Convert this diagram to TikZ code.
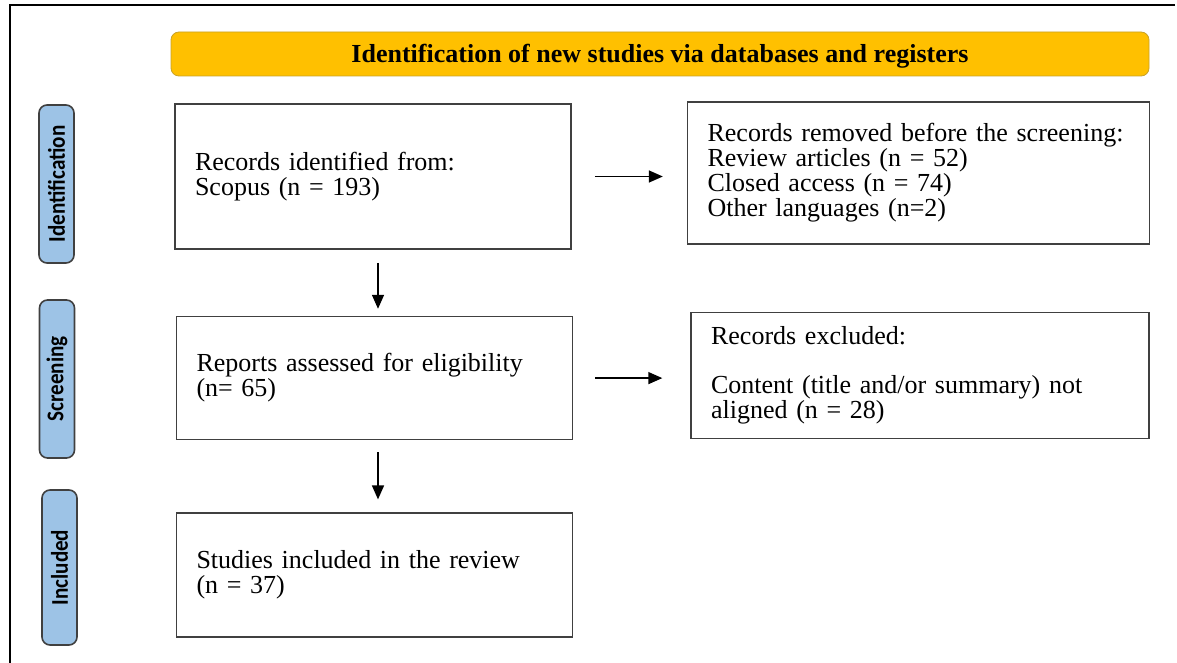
\documentclass[tikz,border=0pt]{standalone}
\usepackage{fontspec}
\setmainfont{Liberation Serif}
\newfontfamily\stagefont[FakeStretch=0.88]{Carlito}
\usepackage{tikz}
\usetikzlibrary{arrows.meta,positioning}
\definecolor{prisyellow}{HTML}{FFC000}
\definecolor{prisgold}{HTML}{C9A227}
\definecolor{prisblue}{HTML}{9DC3E6}
\definecolor{prisgrey}{HTML}{404040}

\begin{document}
\begin{tikzpicture}[
    x=0.5pt, y=-0.5pt,
    every node/.style={font=\fontsize{13}{12.5}\selectfont},
    box/.style={draw=prisgrey, line width=0.8pt, align=left, inner xsep=10pt, text width=178pt},
    stage/.style={draw=prisgrey, fill=prisblue, line width=0.8pt, rounded corners=4pt, rotate=90, inner sep=0pt, minimum width=79pt, minimum height=17.5pt, font=\stagefont\bfseries\fontsize{12}{12}\selectfont},
    arrow/.style={-{Triangle[length=7pt, width=6pt]}, line width=0.75pt}
]
    \useasboundingbox (0,0) rectangle (1177,663);
    \draw[line width=1pt] (1175,5) -- (10,5) -- (10,663);

    \node[draw=prisgold, fill=prisyellow, rounded corners=4pt, minimum width=489pt, minimum height=22pt, text height=10.5pt, text depth=1.5pt, font=\bfseries\fontsize{13}{12}\selectfont] (banner) at (660,54) {Identification of new studies via databases and registers};

    \node[stage] (ident) at (56.5,184) {Identification};
    \node[stage] (screen) at (57,379) {Screening};
    \node[stage, minimum width=77.5pt] (incl) at (59.5,567.5) {Included};

    \node[box, minimum height=72.5pt] (records) at (373,176.5) {Records identified from:\\Scopus (n = 193)};
    \node[box, text width=211pt, minimum height=71pt, right=57.5pt of records, yshift=1.75pt] (removed) {Records removed before the screening:\\Review articles (n = 52)\\Closed access (n = 74)\\Other languages (n=2)};
    \node[box, minimum height=61.5pt, below=33pt of records, xshift=0.75pt] (reports) {Reports assessed for eligibility\\(n= 65)};
    \node[box, text width=209pt, minimum height=63pt, right=58.5pt of reports, yshift=1.25pt] (excluded) {Records excluded:\\[12pt]Content (title and/or summary) not\\aligned (n = 28)};
    \node[box, minimum height=62pt, below=36pt of reports] (studies) {Studies included in the review\\(n = 37)};

    \draw[arrow, shorten <=11.5pt, shorten >=12pt] (records.east) -- (records.east -| removed.west);
    \draw[arrow, shorten <=11pt, shorten >=14pt] (reports.east) -- (reports.east -| excluded.west);
    \draw[arrow, shorten <=6.5pt, shorten >=3.5pt] ([xshift=2.5pt]records.south) -- ([xshift=2.5pt]records.south |- reports.north);
    \draw[arrow, shorten <=6pt, shorten >=6.5pt] ([xshift=1.75pt]reports.south) -- ([xshift=1.75pt]reports.south |- studies.north);
\end{tikzpicture}
\end{document}
